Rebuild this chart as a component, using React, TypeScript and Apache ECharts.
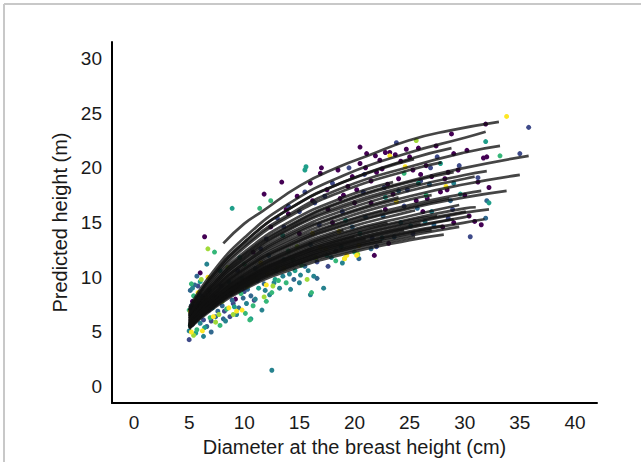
import React, { useEffect, useRef } from "react";
import * as echarts from "echarts";

const xTicks = [0, 5, 10, 15, 20, 25, 30, 35, 40];
const yTicks = [0, 5, 10, 15, 20, 25, 30];
const xTitle = "Diameter at the breast height (cm)";
const yTitle = "Predicted height (m)";

// fitted height–diameter curves, [dbh, height]
const fittedCurves: number[][][] = [
  [[8.1, 13.1], [10, 14.9], [11.6, 16.0], [15.1, 18.4], [18.6, 20.1], [21.2, 21.1], [24.9, 22.5], [28.6, 23.4], [33.1, 24.2]],
  [[5, 7.2], [7, 10.3], [10, 13.6], [14, 16.7], [19, 19.3], [25, 21.4], [30, 22.75], [31.9, 23.3]],
  [[5, 7.0], [7, 10.0], [10, 13.2], [14, 16.2], [19, 18.7], [25, 20.8], [28.8, 21.8]],
  [[5, 7.0], [7, 10.0], [10, 13.2], [14, 16.2], [19, 18.7], [25.4, 20.8]],
  [[5, 6.9], [7, 9.8], [10, 12.9], [14, 15.7], [19, 18.2], [25, 20.1], [30, 21.4], [33.2, 22.0]],
  [[5, 6.8], [7, 9.6], [10, 12.7], [14, 15.5], [19, 17.9], [25, 19.8], [27.9, 20.5]],
  [[5, 6.7], [7, 9.4], [10, 12.3], [14, 15.0], [19, 17.3], [23.5, 18.7]],
  [[5, 6.6], [7, 9.2], [10, 12.1], [14, 14.7], [19, 17.0], [25, 18.8], [30, 20.0], [35.8, 21.1]],
  [[5, 6.5], [7, 9.0], [10, 11.8], [14, 14.4], [19, 16.6], [25, 18.4], [26, 18.6]],
  [[5, 6.4], [7, 9.0], [10, 11.7], [14, 14.3], [19, 16.4], [25, 18.2], [30, 19.35], [32, 19.7]],
  [[5, 6.4], [7, 8.8], [10, 11.5], [14, 14.0], [19, 16.1], [25, 17.9], [30, 19.0], [30.9, 19.2]],
  [[5, 6.3], [7, 8.7], [10, 11.3], [14, 13.8], [19, 15.8], [24, 17.3]],
  [[5, 6.25], [7, 8.65], [10, 11.25], [14, 13.65], [19, 15.7], [25, 17.4], [30, 18.5], [35, 19.35]],
  [[5, 6.2], [7, 8.5], [10, 11.1], [14, 13.4], [19, 15.4], [25, 17.1], [27, 17.5]],
  [[5, 6.1], [7, 8.4], [10, 10.9], [14, 13.2], [19, 15.1], [22.5, 16.1]],
  [[5, 6.0], [7, 8.25], [10, 10.7], [14, 12.9], [19, 14.8], [25, 16.4], [28.6, 17.2]],
  [[5, 6.0], [7, 8.2], [10, 10.6], [14, 12.8], [19, 14.7], [25, 16.3], [30, 17.3], [33.8, 17.9]],
  [[5, 5.9], [7, 8.05], [10, 10.4], [14, 12.55], [19, 14.4], [25, 16.0], [25.5, 16.1]],
  [[5, 5.8], [7, 7.9], [10, 10.2], [14, 12.3], [19, 14.1], [25, 15.6], [29.5, 16.6]],
  [[5, 5.8], [7, 7.9], [10, 10.1], [14, 12.2], [19, 14.0], [23, 15.0]],
  [[5, 5.7], [7, 7.7], [10, 9.9], [14, 11.9], [19, 13.7], [25, 15.2], [27.5, 15.6]],
  [[5, 5.7], [7, 7.7], [10, 9.8], [14, 11.8], [19, 13.5], [25, 15.0], [30.1, 16.0]],
  [[5, 5.65], [7, 7.6], [10, 9.8], [14, 11.8], [19, 13.5], [25, 14.9], [30, 15.9], [32.2, 16.2]],
  [[5, 5.6], [7, 7.5], [10, 9.65], [14, 11.6], [19, 13.25], [25, 14.7], [26, 14.9]],
  [[5, 5.6], [7, 7.5], [10, 9.6], [14, 11.5], [19, 13.1], [25, 14.5], [29, 15.3]],
  [[5, 5.5], [7, 7.4], [10, 9.5], [14, 11.3], [19, 13.0], [24.5, 14.3]],
  [[5, 5.5], [7, 7.3], [10, 9.4], [14, 11.2], [19, 12.8], [25, 14.2], [28, 14.7]],
  [[5, 5.5], [7, 7.3], [10, 9.3], [14, 11.15], [19, 12.75], [25, 14.1], [30, 15.0], [31.8, 15.3]],
  [[5, 5.4], [7, 7.2], [10, 9.2], [14, 11.0], [19, 12.6], [25, 14.0], [27, 14.3]],
  [[5, 5.4], [7, 7.2], [10, 9.1], [14, 10.9], [19, 12.5], [25, 13.8], [29.5, 14.6]],
  [[5, 5.35], [7, 7.1], [10, 9.0], [14, 10.8], [19, 12.3], [25.5, 13.7]],
  [[5, 5.3], [7, 7.0], [10, 8.9], [14, 10.6], [19, 12.1], [25, 13.4], [28.1, 13.9]],
  [[5, 5.5], [7, 7.4], [10, 9.5], [14, 11.3], [19, 13.0], [21, 13.5]],
  [[5, 5.4], [7, 7.2], [10, 9.2], [14, 10.95], [19, 12.5], [22.5, 13.3]],
  [[5, 5.6], [7, 7.6], [10, 9.7], [14, 11.7], [19, 13.4], [20, 13.7]],
  [[5, 5.9], [7, 8.0], [10, 10.3], [14, 12.4], [19, 14.3]],
  [[5, 5.75], [7, 7.8], [10, 10.0], [14, 12.1], [19, 13.8], [25, 15.3], [30, 16.3], [31, 16.4]],
  [[5, 5.6], [7, 7.5], [10, 9.6], [14, 11.5], [19, 13.2], [25, 14.6], [30, 15.5], [30.5, 15.6]],
  [[5, 6.1], [7, 8.3], [10, 10.8], [14, 13.0], [19, 15.0], [25, 16.6], [30, 17.65], [31.5, 17.9]],
  [[5, 6.55], [7, 9.2], [10, 12.0], [14, 14.6], [19, 16.9], [25, 18.7], [29, 19.6]],
];

// observed trees, grouped by colour (viridis)
const treesPurple = [[6.4,13.7],[5.3,7.8],[6.0,10.4],[7.2,8.3],[11.8,17.6],[13.4,18.7],[14.0,15.8],[16.2,17.0],[16.9,19.5],[17.6,16.2],[18.5,19.8],[19.4,18.3],[20.5,21.9],[20.5,20.4],[21.1,21.3],[21.9,21.1],[22.3,20.7],[22.8,21.4],[23.2,21.4],[23.7,21.2],[24.7,21.7],[23.1,13.1],[21.8,12.0],[26.6,17.2],[28.0,14.6],[28.2,19.0],[28.4,18.0],[28.5,19.6],[28.8,23.1],[29.0,21.3],[30.9,15.1],[31.7,20.9],[31.9,24.0],[32.2,18.2],[22.0,19.6],[24.0,19.0],[25.3,19.8],[26.5,20.2],[19.0,17.5],[20.0,16.8],[21.5,18.8],[23.5,17.6],[18.0,15.0],[15.0,14.0],[9.2,8.0],[10.8,12.3],[12.4,14.6],[17.0,20.0],[26.2,16.0],[30.0,17.5],[19.8,19.2],[21.0,20.0],[22.5,19.9],[23.0,18.5],[24.2,20.6],[25.0,21.0],[25.8,21.8],[26.0,19.4],[27.0,19.2],[27.4,22.0],[29.4,19.8],[30.2,21.6],[31.2,18.7],[32.0,21.0],[21.5,16.8],[22.8,16.2],[17.5,18.0],[16.0,18.6],[14.8,17.4],[13.8,16.2],[18.7,17.2],[20.2,18.0],[25.6,17.0],[27.8,17.8],[29.0,15.0],[30.4,15.6],[31.5,14.8]];
const treesIndigo = [[35.8,23.7],[35.0,21.3],[31.2,19.1],[30.5,13.7],[28.5,15.4],[25.3,14.0],[22.0,12.8],[21.6,13.6],[17.6,11.0],[16.6,11.4],[14.0,16.5],[15.5,17.8],[18.0,18.6],[19.5,20.0],[23.8,22.3],[26.0,18.8],[27.5,21.0],[29.5,20.2],[20.8,17.8],[24.5,16.5],[13.0,15.4],[10.0,8.7],[9.0,7.6],[8.2,6.9],[6.8,7.0],[5.8,9.2],[5.0,4.3],[7.0,6.0],[12.0,13.5],[16.8,14.8],[15.0,16.0],[16.4,16.8],[17.3,17.4],[18.9,16.0],[20.9,19.4],[22.7,18.2],[24.8,18.0],[26.9,20.0],[28.9,16.2],[13.6,14.6],[11.5,12.6],[9.4,10.6],[7.9,9.2],[6.3,6.1],[5.3,5.7],[8.7,6.4],[10.9,7.9]];
const treesBlue = [[28.7,17.0],[27.2,14.8],[25.7,16.3],[20.4,11.7],[16.6,9.9],[15.5,11.0],[12.9,10.6],[11.8,9.4],[10.6,8.3],[9.5,7.2],[8.8,8.5],[8.0,7.4],[7.4,6.4],[6.6,5.5],[5.6,6.1],[5.2,7.4],[6.1,8.3],[5.5,9.3],[14.5,9.8],[18.3,12.4],[19.8,14.6],[22.6,15.6],[24.0,17.9],[26.8,18.5],[31.9,15.4],[32.0,17.0],[12.2,12.0],[11.0,10.8],[16.0,13.0],[21.0,15.5],[7.0,5.0],[7.6,6.9],[8.1,6.2],[8.9,7.9],[9.9,8.1],[10.3,8.9],[11.2,9.7],[21.5,12.6],[23.6,13.7],[5.1,8.8],[5.7,10.1]];
const treesTeal = [[12.5,1.5],[6.3,4.6],[5.0,5.1],[5.4,6.6],[6.0,5.8],[7.1,7.2],[8.3,6.0],[9.3,6.6],[10.2,7.6],[11.0,8.0],[11.6,7.0],[12.3,8.4],[13.2,9.0],[14.2,8.9],[15.1,10.2],[16.0,8.4],[17.2,9.0],[16.3,10.1],[22.5,13.6],[27.0,16.0],[29.0,18.6],[24.2,15.0],[18.8,12.8],[8.6,9.6],[6.8,8.8],[5.8,7.2],[9.8,9.9],[13.6,11.6],[11.9,8.8],[12.7,9.5],[13.5,10.1],[14.1,10.3],[15.0,9.5],[15.8,10.6],[17.9,11.8],[18.9,11.3],[25.1,14.7],[26.4,15.1],[5.3,9.0],[6.6,11.2]];
const treesSea = [[5.1,5.6],[5.6,4.9],[6.4,6.8],[7.6,8.0],[8.9,16.3],[10.6,6.2],[11.3,9.0],[12.8,9.8],[14.6,10.6],[15.6,20.1],[15.5,19.8],[25.8,18.6],[27.8,20.4],[32.2,16.8],[31.9,22.4],[29.6,17.6],[22.8,17.3],[19.2,15.2],[7.8,10.6],[9.6,11.8],[6.0,9.6],[13.5,13.8],[17.5,12.0],[20.5,14.0],[6.4,5.4],[7.3,7.5],[8.2,8.3],[9.1,7.3]];
const treesGreen = [[5.2,9.4],[5.4,8.3],[6.9,6.3],[7.3,12.3],[8.4,7.1],[10.5,6.1],[11.4,16.3],[12.4,17.0],[9.7,8.5],[12.0,7.8],[13.8,9.5],[15.2,11.1],[16.1,8.6],[18.3,11.5],[20.0,12.3],[26.5,17.5],[33.2,21.1],[24.5,19.5],[14.0,12.4],[10.0,11.2],[6.2,7.5],[5.7,5.2],[7.8,5.6],[10.1,6.7],[10.8,7.4],[12.5,8.6],[13.1,9.7],[14.4,11.6],[5.0,7.0]];
const treesLime = [[5.4,4.7],[6.7,12.6],[6.1,9.8],[8.0,7.8],[9.0,6.6],[10.3,9.2],[11.8,8.2],[12.6,9.2],[15.7,9.8],[16.5,11.8],[19.1,11.7],[20.3,12.1],[13.0,10.9],[7.4,5.9],[5.9,6.6],[8.5,10.9],[25.6,22.5],[14.8,12.8],[11.0,10.0],[9.4,9.1],[7.7,6.6],[6.5,8.0]];
const treesYellow = [[6.7,10.0],[5.8,8.6],[7.2,6.4],[8.6,7.2],[9.8,7.0],[9.3,6.9],[10.7,9.6],[12.0,9.3],[13.6,10.8],[19.3,12.0],[20.2,12.0],[19.1,11.7],[20.4,12.9],[23.8,16.9],[24.6,20.1],[23.2,21.1],[33.8,24.7],[28.3,18.3],[16.2,14.0],[5.2,5.0],[6.2,5.1],[11.5,11.3],[17.4,12.6],[5.6,7.9],[5.1,6.9],[12.1,10.3],[16.9,12.7],[18.6,14.2]];

const treeGroups = [
  { data: treesPurple, color: "#440154" },
  { data: treesIndigo, color: "#3e4a89" },
  { data: treesBlue, color: "#31688e" },
  { data: treesTeal, color: "#26828e" },
  { data: treesSea, color: "#1f9e89" },
  { data: treesGreen, color: "#35b779" },
  { data: treesLime, color: "#a0da39" },
  { data: treesYellow, color: "#fde725" },
];

const FONT = "Liberation Sans, Arial, sans-serif";

export default function App() {
  const ref = useRef<HTMLDivElement>(null);
  useEffect(() => {
    if (!ref.current) return;
    const chart = echarts.init(ref.current, undefined, { renderer: "svg" });
    const series: any[] = [];
    treeGroups.forEach((g) => {
      series.push({
        type: "scatter",
        data: g.data,
        symbolSize: 5,
        itemStyle: { color: g.color, opacity: 1 },
        z: 2,
      });
    });
    fittedCurves.forEach((c) => {
      series.push({
        type: "line",
        data: c,
        showSymbol: false,
        symbol: "none",
        smooth: 0.5,
        lineStyle: { color: "#111111", width: 2.7, opacity: 0.78 },
        z: 3,
      });
    });
    chart.setOption({
      animation: false,
      backgroundColor: "#ffffff",
      grid: { left: 112, right: 44, top: 42, bottom: 56, containLabel: false },
      xAxis: {
        type: "value",
        min: -2,
        max: 42,
        splitLine: { show: false },
        axisTick: { show: false },
        axisLine: { show: true, onZero: false, lineStyle: { color: "#000", width: 2 } },
        axisLabel: {
          customValues: xTicks,
          fontSize: 19,
          color: "#1a1a1a",
          fontFamily: FONT,
          margin: 10,
        },
        name: xTitle,
        nameLocation: "middle",
        nameGap: 31,
        nameTextStyle: { fontSize: 20, color: "#1a1a1a", fontFamily: FONT },
      },
      yAxis: {
        type: "value",
        min: -1.5,
        max: 31.5,
        splitLine: { show: false },
        axisTick: { show: false },
        axisLine: { show: true, onZero: false, lineStyle: { color: "#000", width: 2 } },
        axisLabel: {
          customValues: yTicks,
          fontSize: 19,
          color: "#1a1a1a",
          fontFamily: FONT,
          margin: 10,
        },
        name: yTitle,
        nameLocation: "middle",
        nameGap: 37,
        nameRotate: 90,
        nameTextStyle: { fontSize: 20, color: "#1a1a1a", fontFamily: FONT },
      },
      graphic: [
        { type: "line", shape: { x1: 4, y1: 4, x2: 641, y2: 4 }, style: { stroke: "#c8c8c8", lineWidth: 2 } },
        { type: "line", shape: { x1: 4, y1: 4, x2: 4, y2: 462 }, style: { stroke: "#c8c8c8", lineWidth: 2 } },
      ],
      series,
    });
    return () => chart.dispose();
  }, []);
  return (
    <div
      ref={ref}
      style={{ position: "fixed", left: 0, top: 0, width: 641, height: 462, background: "#fff" }}
    />
  );
}
